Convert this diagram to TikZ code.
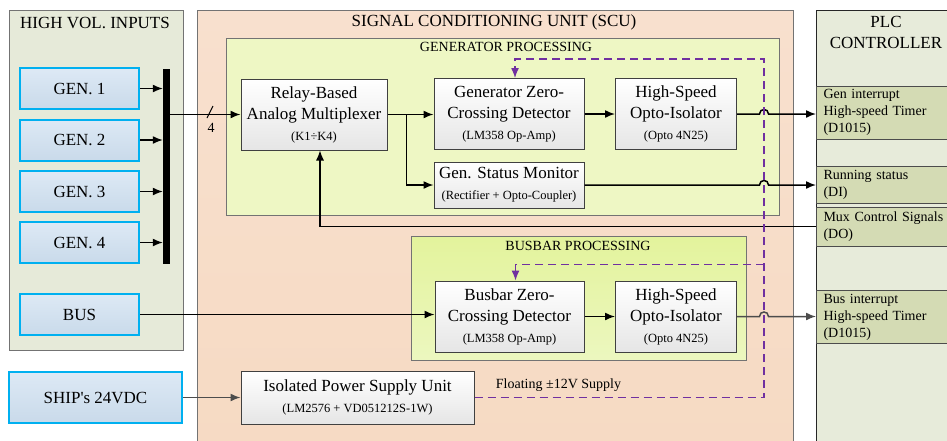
\documentclass[tikz,border=0pt]{standalone}
\usepackage{fontspec}
\setmainfont{Liberation Serif}
\usepackage{xcolor}
\usepackage{tikz}
\usetikzlibrary{arrows.meta, calc, positioning}

\definecolor{srcline}{HTML}{00B0F0}
\definecolor{srctop}{HTML}{DDE9F5}
\definecolor{srcbot}{HTML}{C9DAEA}
\definecolor{hvpanel}{HTML}{E6EAD9}
\definecolor{scutop}{HTML}{F8E0CE}
\definecolor{scubot}{HTML}{F6DAC3}
\definecolor{genpanel}{HTML}{EEF7C4}
\definecolor{bustop}{HTML}{E3F39C}
\definecolor{busbot}{HTML}{ECF7BF}
\definecolor{plcpanel}{HTML}{E7EBDA}
\definecolor{plcsig}{HTML}{D4DBB4}
\definecolor{supplyline}{HTML}{7030A0}

\newcommand{\smalltxt}[1]{{\fontsize{12.5}{15}\selectfont #1}}

\begin{document}
\begin{tikzpicture}[x=1pt, y=-1pt, >={Latex[length=10pt, width=8pt]},
    panel/.style={draw=black!55, line width=1pt},
    srcbox/.style={draw=srcline, line width=2pt, top color=srctop, bottom color=srcbot,
        minimum width=119, minimum height=41, font=\fontsize{17}{21}\selectfont},
    box/.style={draw=black!75, line width=1pt, top color=white, bottom color=black!10,
        align=center, inner sep=2pt, font=\fontsize{17}{21}\selectfont},
    sig/.style={draw=black!70, line width=1pt, fill=plcsig, anchor=west, minimum width=150,
        text width=136, align=left, inner xsep=6pt, font=\fontsize{14}{17}\selectfont},
    title/.style={font=\fontsize{17}{21}\selectfont, align=center},
    subtitle/.style={font=\fontsize{14}{17}\selectfont},
    wire/.style={line width=1.5pt},
    supply/.style={draw=supplyline, line width=1.3pt, dash pattern=on 8pt off 5pt},
    hop/.style={to path={-- ([xshift=-4.5pt]\tikztotarget)
        .. controls ([xshift=-4.5pt, yshift=6pt]\tikztotarget) and ([xshift=4.5pt, yshift=6pt]\tikztotarget)
        .. ([xshift=4.5pt]\tikztotarget)}}]
    \useasboundingbox (0,0) rectangle (947,440);

    % 1. Khung lớn
    \draw[panel, fill=hvpanel] (9,10) rectangle (183,350);
    \draw[panel, top color=scutop, bottom color=scubot] (197,10) rectangle (793,460);
    \draw[draw=black!85, line width=1pt, fill=plcpanel] (816,10) rectangle (960,460);
    \node[title] (hvt) at (95,23) {HIGH VOL. INPUTS};
    \node[title] (scut) at (494,22) {SIGNAL CONDITIONING UNIT (SCU)};
    \node[title] (plct) at (886,32.5) {PLC\\CONTROLLER};

    \draw[panel, fill=genpanel] (226,38) rectangle (779,215);
    \draw[panel, top color=bustop, bottom color=busbot] (411.5,236) rectangle (746.5,360);
    \node[subtitle] (gent) at (506,47) {GENERATOR PROCESSING};
    \node[subtitle] (bust) at (578,245.5) {BUSBAR PROCESSING};

    % 2. Nguồn vào
    \node[fill=black, minimum width=7, minimum height=195, inner sep=0] (bar) at (166.5,166.5) {};
    \foreach \i/\y in {1/88.5, 2/140, 3/191.5, 4/242.5} {
        \node[srcbox] (gen\i) at (79.5,\y) {GEN. \i};
        \draw[wire, ->] (gen\i.east) -- (bar.west |- gen\i.east);
    }
    \node[srcbox] (bus) at (79.5,314.5) {BUS};
    \node[srcbox, minimum width=173, minimum height=51] (ship) at (95.5,397.5) {SHIP\textquotesingle s 24VDC};

    % 3. Các khối xử lý
    \node[box, minimum width=146, minimum height=71] (mux) at (314,114.5)
        {Relay-Based\\Analog Multiplexer\\\smalltxt{(K1÷K4)}};
    \node[box, minimum width=150, minimum height=71] (zcdG) at (509,114)
        {Generator Zero-\\Crossing Detector\\\smalltxt{(LM358 Op-Amp)}};
    \node[box, minimum width=121, minimum height=71] (optoG) at (676,114)
        {High-Speed\\Opto-Isolator\\\smalltxt{(Opto 4N25)}};
    \node[box, minimum width=150, minimum height=46] (statG) at (509,185)
        {Gen. Status Monitor\\\smalltxt{(Rectifier + Opto-Coupler)}};
    \node[box, minimum width=149, minimum height=71] (zcdB) at (509.5,316.5)
        {Busbar Zero-\\Crossing Detector\\\smalltxt{(LM358 Op-Amp)}};
    \node[box, minimum width=121, minimum height=71] (optoB) at (676,316.5)
        {High-Speed\\Opto-Isolator\\\smalltxt{(Opto 4N25)}};
    \node[box, minimum width=233, minimum height=53] (ps) at (357.5,397.5)
        {Isolated Power Supply Unit\\\smalltxt{(LM2576 + VD051212S-1W)}};

    % 4. Tín hiệu PLC
    \node[sig, minimum height=53] (genint) at (816,112.5) {Gen interrupt\\High-speed Timer\\(D1015)};
    \node[sig, minimum height=36.5] (runst) at (816,185) {Running status\\(DI)};
    \node[sig, minimum height=39] (muxctl) at (816,226.5) {Mux Control Signals\\(DO)};
    \node[sig, minimum height=53] (busint) at (816,317) {Bus interrupt\\High-speed Timer\\(D1015)};

    % 5. Đường nối
    \coordinate (dashT) at (764,59);
    \coordinate (dashB) at (764,264.5);
    \coordinate (j1) at (dashT |- optoG.east);
    \coordinate (j2) at (dashT |- statG.east);
    \coordinate (j3) at (dashT |- optoB.east);

    \draw[wire, ->] (bar.east |- mux.west) -- (mux.west);
    \draw[line width=1pt] (207,118) -- (213,106);
    \node[subtitle] (nfour) at (211,128) {4};
    \draw[wire, ->] (mux.east) -- (zcdG.west |- mux.east);
    \draw[wire, ->] ([xshift=19pt]mux.east) |- (statG.west);
    \draw[wire, ->] (zcdG.east) -- (optoG.west);
    \draw[wire, ->] (optoG.east) to[hop] (j1) -- (genint.west |- optoG.east);
    \draw[wire, ->] (statG.east) to[hop] (j2) -- (runst.west);
    \draw[line width=1.1pt, ->] (muxctl.west) -| ([xshift=6pt]mux.south);

    \draw[wire, ->] (bus.east) -- (zcdB.west |- bus.east);
    \draw[wire, ->] (zcdB.east) -- (optoB.west);
    \draw[wire, black!70, ->] (optoB.east) to[hop] (j3) -- (busint.west |- optoB.east);
    \draw[wire, black!70, ->] (ship.east) -- (ps.west);

    % 6. Nguồn cách ly (nét đứt)
    \draw[supply, ->] (ps.east) -| (dashT) -| ([xshift=6pt]zcdG.north);
    \draw[supply, ->] (dashB) -| ([xshift=6pt]zcdB.north);
    \node[subtitle] (supt) at (558.5,385) {Floating ±12V Supply};
\end{tikzpicture}
\end{document}
